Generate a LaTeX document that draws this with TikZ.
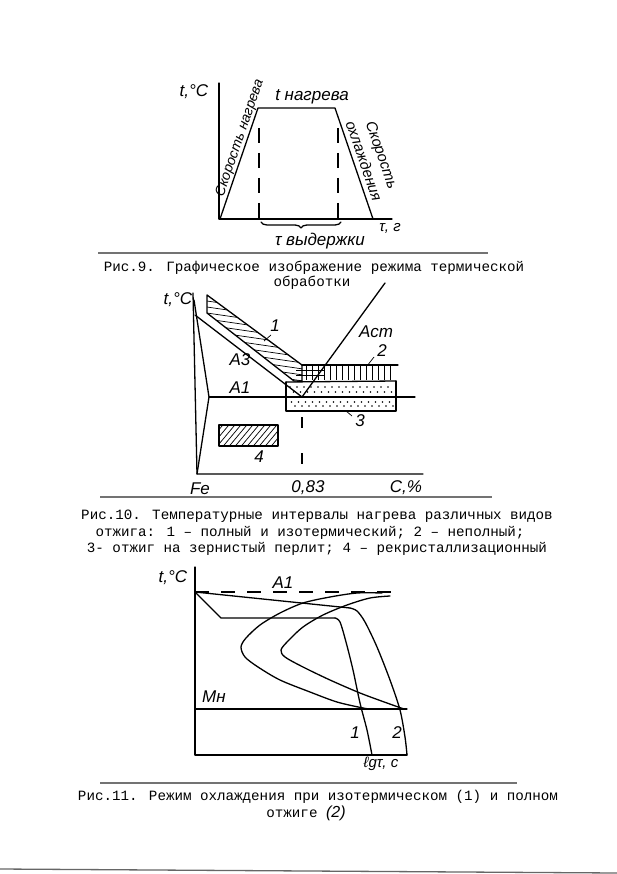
\documentclass[tikz,border=0pt]{standalone}
\usepackage{fontspec}
\newfontfamily\capfont{Liberation Mono}
\newfontfamily\handfont{Liberation Sans}
\usetikzlibrary{decorations.pathreplacing}
\begin{document}
\begin{tikzpicture}[x=1pt,y=-1pt,
  ln/.style={line width=1.3pt, line join=round, line cap=round},
  hl/.style={line width=0.7pt},
  hand/.style={font=\handfont\itshape\fontsize{17}{17}\selectfont, inner sep=0pt},
  handsm/.style={font=\handfont\itshape\fontsize{15}{15}\selectfont, inner sep=0pt},
  captxt/.style={font=\capfont\fontsize{14.2}{16.3}\selectfont, inner sep=0pt},
  sep/.style={line width=1.1pt, black!55},
  dsh/.style={line width=1.1pt, dash pattern=on 15pt off 10pt},
]
\useasboundingbox (0,0) rectangle (617,874);
\fill[white] (0,0) rectangle (617,874);

% ================= Fig. 9 =================
\draw[ln] (219,83) -- (219,219) -- (392,219);
\draw[ln] (220,219) -- (258,108) -- (335,108) -- (373,219);
\draw[dsh] (259,128) -- (259,219);
\draw[dsh] (338,128) -- (338,219);
\draw[ln, decorate, decoration={brace, mirror, amplitude=6pt}] (261,222) -- (341,222);
\node[hand] (t9) at (194,92) {t,°C};
\node[hand] (tn) at (312,97) {t нагрева};
\node[font=\handfont\itshape\fontsize{14}{14}\selectfont, inner sep=0pt, rotate=71] (vn) at (240,138) {Скорость нагрева};
\node[font=\handfont\itshape\fontsize{15}{19}\selectfont, inner sep=0pt, rotate=-71, align=center] (vo) at (373,158) {Скорость\\охлаждения};
\node[hand] (tv) at (320,241) {τ выдержки};
\node[handsm] (tg) at (390,228) {τ, г};

\draw[sep] (98,253) -- (488,253);
\node[captxt] (c9a) at (314,268) {Рис.9. Графическое изображение режима термической};
\node[captxt] (c9b) at (312,283) {обработки};

% ================= Fig. 10 =================
\draw[ln] (193,293) -- (197,474) -- (423,474);
\draw[ln] (194,300) -- (209,397) -- (197,474);
\draw[ln] (209,397) -- (415,397);
\draw[ln] (195,315) -- (302,397);
\draw[ln] (302,397) -- (385,283);
\draw[line width=1.1pt, dash pattern=on 11pt off 25pt] (302,417) -- (302,474);

% band 1
\draw[ln] (207,295) -- (302,365) -- (302,381) -- (294,381) -- (207,313) -- cycle;
\begin{scope}
  \clip (207,295) -- (302,365) -- (302,381) -- (294,381) -- (207,313) -- cycle;
  \foreach \k in {0,...,22} \draw[hl] (200,282+6*\k) -- (310,298+6*\k);
\end{scope}

% region 2
\draw[ln] (302,365) -- (398,365);
\draw[ln] (286,382) -- (396,381);
\foreach \x in {306,312,...,395} \draw[hl] (\x,366) -- (\x,380);
\draw[hl] (296,370) -- (325,370);
\draw[hl] (296,375.5) -- (325,375.5);

% region 3
\draw[ln] (286,382) -- (286,411) -- (396,411) -- (396,381);
\foreach \y/\o in {387/0, 392/3.5, 402/1.5, 406/5} {
  \foreach \x in {290,297,...,388} { \fill (\x+\o,\y) circle (0.8); }
}

% region 4
\draw[ln] (219,425) rectangle (278,446);
\begin{scope}
  \clip (219,425) rectangle (278,446);
  \foreach \k in {0,...,16} \draw[hl] (190+6*\k,450) -- (215+6*\k,420);
\end{scope}

\node[hand] (t10) at (178,300) {t,°C};
\node[hand] (l1) at (275,326) {1};
\draw[hl] (271,335) -- (264,341);
\node[hand] (acm) at (376,332) {Acm};
\node[hand] (l2) at (382,351) {2};
\draw[hl] (374,357) -- (367,366);
\node[hand] (a3) at (240,360) {A3};
\node[hand] (a1) at (240,388) {A1};
\node[hand] (l3) at (360,421) {3};
\draw[hl] (352,416) -- (346,411);
\node[hand] (l4) at (259,457) {4};
\node[hand] (fe) at (200,489) {Fe};
\node[hand] (c083) at (308,488) {0,83};
\node[hand] (cp) at (406,488) {C,\%};

\draw[sep] (100,497) -- (492,497);
\node[captxt] (c10a) at (317,516) {Рис.10. Температурные интервалы нагрева различных видов};
\node[captxt] (c10b) at (310,533) {отжига: 1 – полный и изотермический; 2 – неполный;};
\node[captxt] (c10c) at (317,549) {3- отжиг на зернистый перлит; 4 – рекристаллизационный};

% ================= Fig. 11 =================
\draw[ln] (195,567) -- (195,755) -- (407,755);
\draw[line width=1.1pt, dash pattern=on 14pt off 12pt] (195,592) -- (402,592);
\draw[ln] (195,709) -- (407,709);
% curve 1 (isothermal)
\draw[ln] (195,592) -- (221,618) -- (335,618);
\draw[ln] plot[smooth] coordinates {(335,618) (340,622) (346,642) (353,670) (360,703) (367,730) (372,755)};
% curve 2 (full)
\draw[ln] (195,592) -- (350,608);
\draw[ln] plot[smooth] coordinates {(350,608) (357,611) (365,622) (377,647) (390,680) (400,710) (405,737) (407,755)};
% C-curves
\draw[ln] plot[smooth] coordinates {(382,593) (357,593) (330,597) (303,603) (280,613) (260,625) (246,638) (241,647) (245,657) (258,667) (280,680) (310,692) (337,702) (363,708) (370,709)};
\draw[ln] plot[smooth] coordinates {(390,596) (370,598) (347,605) (323,615) (303,627) (288,641) (281,650) (285,657) (303,667) (330,680) (360,693) (387,703) (404,709)};

\node[hand] (t11) at (173,578) {t,°C};
\node[hand] (a1b) at (283,583) {A1};
\node[hand] (mn) at (214,697) {Мн};
\node[hand] (n1) at (355,733) {1};
\node[hand] (n2) at (397,733) {2};
\node[handsm] (lg) at (381,764) {ℓgτ, c};

\draw[sep] (100,783) -- (517,783);
\node[captxt] (c11a) at (318,797) {Рис.11. Режим охлаждения при изотермическом (1) и полном};
\node[captxt] (c11b) at (306,813) {отжиге {\handfont\itshape\fontsize{16}{16}\selectfont(2)}};

\draw[line width=1.3pt, black!60] (0,869) -- (617,873);
\end{tikzpicture}
\end{document}
